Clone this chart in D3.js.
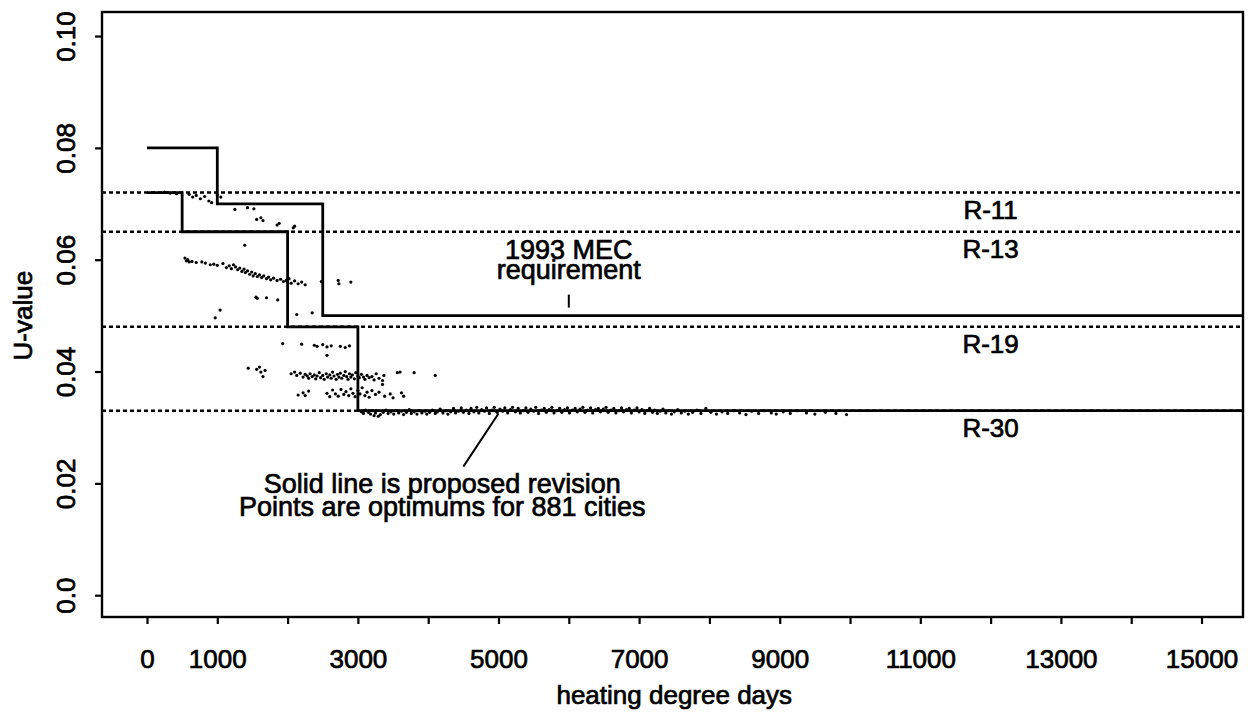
<!DOCTYPE html>
<html>
<head>
<meta charset="utf-8">
<script src="https://cdn.jsdelivr.net/npm/d3@7"></script>
<style>
  html, body { margin: 0; padding: 0; background: #fff; }
  svg text { font-family: "Liberation Sans", Arial, Helvetica, sans-serif; fill: #000; stroke: #000; stroke-width: 0.7px; }
</style>
</head>
<body>
<svg id="chart" width="1252" height="715"></svg>
<script>
// ---------- data ----------
const xTicks = [0,1000,2000,3000,4000,5000,6000,7000,8000,9000,10000,11000,12000,13000,14000,15000];
const xTickLabels = ["0","1000","","3000","","5000","","7000","","9000","","11000","","13000","","15000"];
const yTicks = [0, 0.02, 0.04, 0.06, 0.08, 0.10];
const yTickLabels = ["0.0","0.02","0.04","0.06","0.08","0.10"];

// insulation levels (dotted reference lines)
const rLevels = [0.072, 0.065, 0.048, 0.033];
const rLabels = ["R-11","R-13","R-19","R-30"];

// 1993 MEC requirement (step function, step after each x)
const mecX = [0, 1000, 2500];
const mecU = [0.080, 0.070, 0.050];

// proposed revision (step function)
const propX = [0, 500, 2000, 3000];
const propU = [0.072, 0.065, 0.048, 0.033];

// optimum U-values for cities
const ptsR11 = [[250,0.0721],[330,0.0719],[420,0.0718],[600,0.0717],[650,0.0712],[700,0.0715],[760,0.0709],[820,0.0713],[880,0.0705],[920,0.0702],[1000,0.0716],[1050,0.0712]];
const ptsR13 = [[1250,0.0690],[1430,0.0693],[1520,0.0691],[1560,0.0672],[1620,0.0675],[1650,0.0670],[1850,0.0662],[1880,0.0665],[2080,0.0657],[2100,0.0660],[1390,0.0626]];
const ptsMid = [[540,0.0603],[560,0.0598],[580,0.0600],[600,0.0596],[640,0.0597],[700,0.0595],[780,0.0596],[830,0.0594],[900,0.0591],[950,0.0592],[1000,0.0590],[1080,0.0593],[1130,0.0586],[1170,0.0589],[1200,0.0584],[1230,0.0591],[1260,0.0587],[1290,0.0582],[1320,0.0585],[1350,0.0579],[1380,0.0583],[1400,0.0577],[1430,0.0580],[1460,0.0574],[1490,0.0578],[1510,0.0571],[1540,0.0575],[1570,0.0570],[1600,0.0573],[1630,0.0568],[1660,0.0571],[1700,0.0566],[1730,0.0569],[1760,0.0564],[1800,0.0567],[1850,0.0563],[1900,0.0565],[1940,0.0561],[1980,0.0563],[2000,0.0560],[2020,0.0566],[2050,0.0558],[2100,0.0562],[2150,0.0557],[2200,0.0560],[2250,0.0555],[2480,0.0561],[2720,0.0563],[2730,0.0557],[2900,0.0560],[1550,0.0533],[1570,0.0531],[1700,0.0532],[1860,0.0528],[2130,0.0502],[2350,0.0505],[970,0.0496],[1040,0.0510]];
const ptsR19 = [[1930,0.0450],[2200,0.0449],[2380,0.0447],[2420,0.0445],[2500,0.0448],[2560,0.0444],[2620,0.0446],[2750,0.0445],[2820,0.0443],[2880,0.0446],[2560,0.0429],
  [1440,0.0406],[1560,0.0404],[1600,0.0408],[1620,0.0399],[1680,0.0402],[1650,0.0391],
  [2050,0.0396],[2100,0.0399],[2130,0.0393],[2180,0.0397],[2220,0.0390],[2250,0.0395],[2280,0.0392],[2300,0.0388],[2320,0.0396],[2350,0.0391],[2380,0.0394],[2400,0.0387],[2420,0.0392],[2450,0.0398],[2470,0.0389],[2500,0.0393],[2520,0.0386],[2550,0.0396],[2570,0.0390],[2600,0.0394],[2620,0.0388],[2640,0.0399],[2660,0.0392],[2690,0.0386],[2710,0.0395],[2730,0.0390],[2750,0.0397],[2770,0.0388],[2800,0.0393],[2820,0.0400],[2840,0.0391],[2860,0.0386],[2880,0.0396],[2900,0.0390],[2920,0.0394],[2950,0.0387],[2970,0.0398],[3000,0.0392],[3020,0.0389],[3050,0.0395],[3080,0.0390],[3100,0.0386],[3130,0.0393],[3160,0.0389],[3200,0.0391],[3230,0.0385],[3260,0.0396],[3300,0.0388],[3350,0.0384],[3370,0.0393],[3560,0.0398],[3600,0.0399],[3800,0.0398],[3350,0.0377],[4100,0.0393],
  [2150,0.0358],[2220,0.0362],[2250,0.0357],[2300,0.0365],[2560,0.0361],[2600,0.0355],[2640,0.0367],[2680,0.0360],[2720,0.0356],[2760,0.0368],[2800,0.0359],[2830,0.0364],[2870,0.0357],[2900,0.0369],[2930,0.0361],[2960,0.0355],[3000,0.0366],[3030,0.0360],[3060,0.0371],[3100,0.0357],[3130,0.0363],[3160,0.0354],[3200,0.0366],[3250,0.0359],[3300,0.0363],[3380,0.0356],[3460,0.0360],[3500,0.0353],[3620,0.0362],[3650,0.0356]];
const ptsR30 = [[3050,0.0328],[3080,0.0325],[3110,0.0331],[3150,0.0327],[3180,0.0324],[3210,0.0330],[3230,0.0321],[3250,0.0326],[3290,0.0320],[3320,0.0323],[3360,0.0327],[3400,0.0331],[3430,0.0325],[3470,0.0328],[3510,0.0324],[3540,0.0330],[3580,0.0326],[3620,0.0329],[3650,0.0323],[3690,0.0327],[3730,0.0332],[3760,0.0325],[3800,0.0328],[3840,0.0324],[3870,0.0330],[3910,0.0326],[3950,0.0329],[3980,0.0324],[4020,0.0327],[4060,0.0331],[4100,0.0325],[4130,0.0328],[4170,0.0333],[4210,0.0326],[4250,0.0330],[4280,0.0324],[4320,0.0328],[4360,0.0334],[4390,0.0326],[4430,0.0329],[4470,0.0335],[4500,0.0327],[4540,0.0331],[4580,0.0325],[4610,0.0334],[4650,0.0328],[4690,0.0336],[4720,0.0326],[4760,0.0332],[4800,0.0329],[4830,0.0335],[4870,0.0325],[4910,0.0331],[4940,0.0336],[4980,0.0327],[5020,0.0333],[5060,0.0329],[5090,0.0335],[5130,0.0326],[5170,0.0332],[5200,0.0336],[5240,0.0328],[5280,0.0334],[5310,0.0326],[5350,0.0330],[5390,0.0335],[5420,0.0327],[5460,0.0333],[5500,0.0329],[5530,0.0336],[5570,0.0325],[5610,0.0331],[5650,0.0334],[5680,0.0327],[5720,0.0332],[5760,0.0336],[5790,0.0326],[5830,0.0330],[5870,0.0334],[5900,0.0327],[5940,0.0332],[5980,0.0335],[6010,0.0326],[6050,0.0331],[6090,0.0334],[6120,0.0328],[6160,0.0333],[6200,0.0336],[6230,0.0327],[6270,0.0331],[6310,0.0335],[6340,0.0326],[6380,0.0332],[6420,0.0334],[6450,0.0328],[6490,0.0333],[6530,0.0336],[6560,0.0327],[6600,0.0331],[6640,0.0334],[6670,0.0326],[6710,0.0330],[6750,0.0335],[6780,0.0328],[6820,0.0332],[6860,0.0334],[6890,0.0326],[6930,0.0331],[6970,0.0335],[7000,0.0328],[7040,0.0332],[7080,0.0325],[7110,0.0330],[7150,0.0334],[7190,0.0327],[7220,0.0331],[7260,0.0325],[7300,0.0329],[7340,0.0333],[7380,0.0326],[7420,0.0330],[7460,0.0324],[7500,0.0328],[7550,0.0332],[7600,0.0326],[7650,0.0329],[7700,0.0324],[7760,0.0327],[7820,0.0331],[7880,0.0325],[7950,0.0334],[8020,0.0327],[8100,0.0324],[8180,0.0328],[8260,0.0325],[8350,0.0330],[8430,0.0326],[8520,0.0323],[8600,0.0329],[8700,0.0325],[8780,0.0330],[8880,0.0326],[8950,0.0324],[9050,0.0328],[9150,0.0325],[9250,0.0330],[9380,0.0326],[9500,0.0324],[9650,0.0327],[9800,0.0325],[9950,0.0323]];

// annotations (data coordinates)
const mecNote = { x: 6000, u: 0.050, lines: ["1993 MEC", "requirement"] };
const propNote = { x: 4200, lines: ["Solid line is proposed revision", "Points are optimums for 881 cities"] };
const propLeader = [[4500, 0.0230], [5000, 0.0325]];

// ---------- chart ----------
const svg = d3.select("#chart");
const x = d3.scaleLinear().domain([-640, 15590]).range([102, 1243]);
const y = d3.scaleLinear().domain([-0.0039, 0.1043]).range([617, 12]);
const FS = 26;

// dotted R-value reference lines
svg.append("g").selectAll("line").data(rLevels).join("line")
  .attr("x1", x.range()[0]).attr("x2", x.range()[1])
  .attr("y1", d => y(d)).attr("y2", d => y(d))
  .attr("stroke", "#000").attr("stroke-width", 2.5).attr("stroke-dasharray", "4,3");

svg.append("g").selectAll("text").data(rLevels).join("text")
  .attr("x", x(12000)).attr("y", d => y(d) + 26)
  .attr("text-anchor", "middle").attr("font-size", FS)
  .text((d, i) => rLabels[i]);

// points
const allPts = [].concat(ptsR11, ptsR13, ptsMid, ptsR19, ptsR30);
svg.append("g").selectAll("circle").data(allPts).join("circle")
  .attr("cx", d => x(d[0])).attr("cy", d => y(d[1])).attr("r", 1.6).attr("fill", "#000");

// step lines
const xEnd = x.domain()[1];
function stepData(xs, us) {
  const d = xs.map((v, i) => [v, us[i]]);
  d.push([xEnd, us[us.length - 1]]);
  return d;
}
const stepLine = d3.line().x(d => x(d[0])).y(d => y(d[1])).curve(d3.curveStepAfter);
[stepData(mecX, mecU), stepData(propX, propU)].forEach(d => {
  svg.append("path").attr("d", stepLine(d)).attr("fill", "none")
    .attr("stroke", "#000").attr("stroke-width", 2.8);
});

// box
svg.append("rect")
  .attr("x", x.range()[0]).attr("y", y.range()[1])
  .attr("width", x.range()[1] - x.range()[0]).attr("height", y.range()[0] - y.range()[1])
  .attr("fill", "none").attr("stroke", "#000").attr("stroke-width", 2.4);

// x axis
const gx = svg.append("g").attr("transform", `translate(0,${y.range()[0]})`)
  .call(d3.axisBottom(x).tickValues(xTicks).tickSize(7).tickFormat((d, i) => xTickLabels[i]));
gx.select(".domain").remove();
gx.selectAll("line").attr("stroke", "#000").attr("stroke-width", 2.2);
gx.selectAll("text").attr("y", 51).attr("dy", 0).attr("font-size", FS)
  .attr("font-family", null);

// y axis
const gy = svg.append("g").attr("transform", `translate(${x.range()[0]},0)`)
  .call(d3.axisLeft(y).tickValues(yTicks).tickSize(7).tickFormat((d, i) => yTickLabels[i]));
gy.select(".domain").remove();
gy.selectAll("line").attr("stroke", "#000").attr("stroke-width", 2.2);
gy.selectAll("text").attr("x", 0).attr("dy", 0).attr("font-size", FS)
  .attr("font-family", null)
  .attr("text-anchor", "middle").attr("transform", "translate(-27,0) rotate(-90)");

// axis titles
svg.append("text").attr("x", (x(0) + x(15000)) / 2).attr("y", 704)
  .attr("text-anchor", "middle").attr("font-size", FS).text("heating degree days");
svg.append("text").attr("transform", `translate(32,${(y(0) + y(0.1)) / 2}) rotate(-90)`)
  .attr("text-anchor", "middle").attr("font-size", FS).text("U-value");

// MEC annotation
const mx = x(mecNote.x), my = y(mecNote.u);
svg.append("text").attr("x", mx).attr("y", my - 57).attr("text-anchor", "middle")
  .attr("font-size", 27).text(mecNote.lines[0]);
svg.append("text").attr("x", mx).attr("y", my - 37).attr("text-anchor", "middle")
  .attr("font-size", 27).text(mecNote.lines[1]);
svg.append("line").attr("x1", mx).attr("x2", mx).attr("y1", my - 21).attr("y2", my - 8)
  .attr("stroke", "#000").attr("stroke-width", 2);

// proposed revision annotation
svg.append("line")
  .attr("x1", x(propLeader[0][0])).attr("y1", y(propLeader[0][1]))
  .attr("x2", x(propLeader[1][0])).attr("y2", y(propLeader[1][1]))
  .attr("stroke", "#000").attr("stroke-width", 2);
svg.append("text").attr("x", x(propNote.x)).attr("y", 493).attr("text-anchor", "middle")
  .attr("font-size", 27).text(propNote.lines[0]);
svg.append("text").attr("x", x(propNote.x)).attr("y", 516).attr("text-anchor", "middle")
  .attr("font-size", 27).text(propNote.lines[1]);
</script>
</body>
</html>
